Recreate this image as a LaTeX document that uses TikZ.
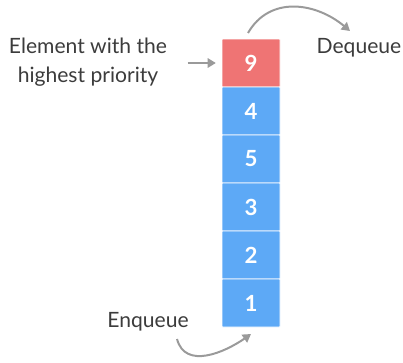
\documentclass[tikz,border=0pt]{standalone}
\usepackage{fontspec}
\setmainfont{Lato}
\usetikzlibrary{arrows.meta}
\definecolor{qred}{HTML}{EF7474}
\definecolor{qblue}{HTML}{5DA9F6}
\definecolor{qgray}{HTML}{9A9A9A}
\definecolor{qtext}{HTML}{3C3C3C}
\tikzset{>=latex}
\tikzset{cell/.style = {shape=rectangle,draw=white,line width=0.5pt,fill=qblue,
                        minimum width=58*0.03cm,minimum height=48*0.03cm,rounded corners=0.6pt,
                        text=white,font=\fontsize{19}{20}\selectfont\bfseries}}
\tikzset{lbl/.style = {text=qtext,font=\fontsize{18}{24.6}\selectfont,align=center}}
\tikzset{arr/.style = {draw=qgray,line width=1.7pt,-{Triangle[length=7pt,width=8pt]}}}

\begin{document}
\begin{tikzpicture}[x=0.03cm,y=-0.03cm]
                    \useasboundingbox (0,0) rectangle (403,362);

                    \node[cell,fill=qred] (n9) at (251,63) {9};
                    \node[cell] (n4) at (251,111) {4};
                    \node[cell] (n5) at (251,159) {5};
                    \node[cell] (n3) at (251,207) {3};
                    \node[cell] (n2) at (251,255) {2};
                    \node[cell] (n1) at (251,303) {1};

                    \node[lbl] (high) at (88,62) {Element with the\\highest priority};
                    \node[lbl] (deq) at (359,48) {Dequeue};
                    \node[lbl] (enq) at (148,322) {Enqueue};

                    \coordinate (up) at (248,33);
                    \coordinate (down) at (350,31);
                    \coordinate (low) at (177,339);
                    \coordinate (tip) at (251,334);

                    \draw[arr,shorten <=14pt,shorten >=5pt] (high.east |- n9) -- (n9.west);
                    \draw[arr] (up) to[out=60,in=140,looseness=1.1] (down);
                    \draw[arr] (low) to[out=-75,in=-145,looseness=1.1] (tip);
                \end{tikzpicture}
\end{document}
